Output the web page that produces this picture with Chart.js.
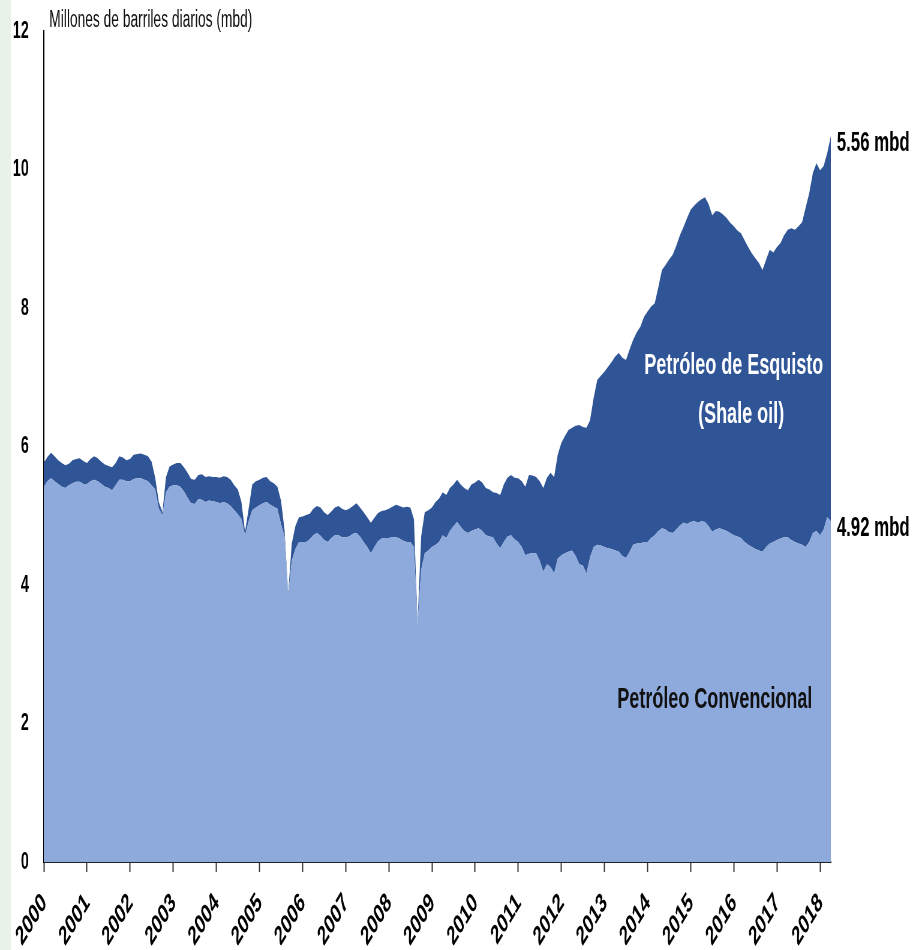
<!DOCTYPE html>
<html lang="es">
<head>
    <meta charset="UTF-8">
    <title>Petróleo convencional y de esquisto</title>
    <style>
        html, body { margin: 0; padding: 0; background: #fff; overflow: hidden; }
        #oilChart { display: block; }
    </style>
</head>
<body>

<!-- the reference is squeezed horizontally, so the canvas is drawn wide and shown at 913px -->
<canvas id="oilChart" width="1522" height="950" style="width:913px;height:950px"></canvas>

<script src="https://cdn.jsdelivr.net/npm/chart.js"></script>
<script>
    // monthly data, Jan 2000 .. Apr 2018 (mbd)
    const startYear = 2000;
    const years = [2000, 2001, 2002, 2003, 2004, 2005, 2006, 2007, 2008, 2009,
                   2010, 2011, 2012, 2013, 2014, 2015, 2016, 2017, 2018];
    const yTicks = [0, 2, 4, 6, 8, 10, 12];

    const conventional = [
        5.42,5.50,5.54,5.50,5.46,5.42,5.40,5.44,5.47,5.49,5.49,5.46,
        5.46,5.50,5.52,5.50,5.46,5.42,5.40,5.37,5.44,5.52,5.52,5.50,
        5.50,5.53,5.54,5.54,5.52,5.50,5.44,5.38,5.10,5.01,5.34,5.42,
        5.44,5.44,5.42,5.35,5.26,5.18,5.17,5.24,5.23,5.20,5.22,5.21,
        5.20,5.18,5.20,5.18,5.14,5.08,5.02,4.95,4.72,4.92,5.08,5.12,
        5.15,5.18,5.20,5.16,5.13,5.10,4.88,4.70,3.85,4.35,4.52,4.62,
        4.62,4.62,4.66,4.72,4.75,4.71,4.65,4.62,4.68,4.72,4.72,4.69,
        4.69,4.70,4.74,4.75,4.70,4.62,4.55,4.46,4.55,4.63,4.67,4.68,
        4.68,4.69,4.69,4.67,4.64,4.62,4.62,4.55,3.42,4.22,4.46,4.50,
        4.55,4.58,4.62,4.72,4.68,4.78,4.85,4.91,4.84,4.78,4.75,4.78,
        4.80,4.82,4.78,4.72,4.70,4.69,4.60,4.53,4.62,4.70,4.72,4.66,
        4.62,4.55,4.43,4.45,4.46,4.46,4.35,4.19,4.30,4.26,4.17,4.38,
        4.43,4.46,4.48,4.50,4.42,4.30,4.28,4.17,4.40,4.55,4.58,4.57,
        4.55,4.53,4.52,4.50,4.48,4.42,4.39,4.48,4.58,4.60,4.60,4.62,
        4.62,4.68,4.72,4.78,4.82,4.80,4.76,4.75,4.80,4.86,4.90,4.88,
        4.91,4.92,4.90,4.92,4.91,4.85,4.77,4.80,4.82,4.80,4.78,4.75,
        4.72,4.70,4.68,4.62,4.58,4.55,4.52,4.50,4.48,4.55,4.60,4.62,
        4.65,4.67,4.69,4.69,4.65,4.62,4.60,4.58,4.55,4.62,4.75,4.78,
        4.72,4.80,4.98,4.92
    ];

    const shale = [
        0.34,0.35,0.37,0.36,0.34,0.34,0.33,0.31,0.33,0.33,0.34,0.33,
        0.30,0.32,0.34,0.33,0.32,0.32,0.32,0.33,0.32,0.34,0.32,0.30,
        0.32,0.35,0.35,0.36,0.36,0.36,0.34,0.17,0.10,0.04,0.22,0.29,
        0.30,0.32,0.34,0.35,0.36,0.35,0.35,0.35,0.37,0.36,0.35,0.35,
        0.36,0.37,0.37,0.38,0.38,0.36,0.36,0.25,0.05,0.18,0.37,0.38,
        0.37,0.37,0.36,0.34,0.34,0.32,0.34,0.09,0.03,0.25,0.33,0.36,
        0.37,0.39,0.37,0.38,0.39,0.41,0.40,0.39,0.38,0.40,0.42,0.41,
        0.39,0.40,0.40,0.43,0.42,0.43,0.43,0.44,0.42,0.41,0.40,0.40,
        0.42,0.44,0.47,0.47,0.48,0.51,0.50,0.40,0.03,0.48,0.59,0.58,
        0.57,0.62,0.63,0.62,0.62,0.62,0.60,0.61,0.61,0.62,0.62,0.67,
        0.68,0.70,0.70,0.68,0.68,0.65,0.73,0.77,0.83,0.85,0.87,0.89,
        0.92,0.95,0.99,1.14,1.12,1.10,1.15,1.21,1.25,1.36,1.39,1.50,
        1.62,1.69,1.76,1.77,1.88,2.01,2.00,2.10,1.98,2.15,2.38,2.45,
        2.53,2.62,2.70,2.80,2.87,2.86,2.86,2.92,2.96,3.05,3.13,3.25,
        3.33,3.34,3.35,3.52,3.73,3.82,3.94,4.02,4.10,4.19,4.27,4.42,
        4.51,4.56,4.63,4.65,4.69,4.65,4.57,4.60,4.57,4.55,4.52,4.48,
        4.46,4.42,4.40,4.36,4.30,4.24,4.20,4.15,4.07,4.15,4.24,4.18,
        4.23,4.27,4.36,4.44,4.50,4.51,4.58,4.66,4.90,5.04,5.20,5.31,
        5.27,5.25,5.26,5.56
    ];

    const FONT = '"Liberation Sans", Arial, sans-serif';
    const toPoints = arr => arr.map((v, i) => ({ x: startYear + i / 12, y: v }));
    const lastX = startYear + (conventional.length - 1) / 12;

    // page strip, title, rotated year labels and the text labels on the areas
    const textPlugin = {
        id: 'texts',
        beforeDraw(chart) {
            const c = chart.ctx;
            c.save();
            c.fillStyle = '#e9f2e9';
            c.fillRect(0, 0, 18, chart.height);
            c.fillStyle = '#111';
            c.font = '23px ' + FONT;
            c.textAlign = 'left';
            c.textBaseline = 'alphabetic';
            c.fillText('Millones de barriles diarios (mbd)', 82, 27);
            c.restore();
        },
        afterDraw(chart) {
            const c = chart.ctx;
            const xs = chart.scales.x;
            c.save();
            c.fillStyle = '#000';
            c.font = 'bold 27px ' + FONT;
            c.textAlign = 'right';
            c.textBaseline = 'alphabetic';
            years.forEach(yr => {
                c.save();
                c.translate(xs.getPixelForValue(yr) + 6, xs.bottom - 46);
                c.rotate(-Math.PI / 4);
                c.fillText(String(yr), 0, 0);
                c.restore();
            });
            c.restore();
        },
        afterDatasetsDraw(chart) {
            const c = chart.ctx;
            const xs = chart.scales.x, ys = chart.scales.y;
            const n = conventional.length - 1;
            const endPx = xs.getPixelForValue(lastX) + 10;
            c.save();
            c.textBaseline = 'middle';
            c.textAlign = 'left';
            c.fillStyle = '#000';
            c.font = 'bold 28px ' + FONT;
            c.fillText(shale[n].toFixed(2) + ' mbd', endPx, ys.getPixelForValue(conventional[n] + shale[n]) + 7);
            c.fillText(conventional[n].toFixed(2) + ' mbd', endPx, ys.getPixelForValue(conventional[n]) + 7);

            c.textAlign = 'center';
            c.font = 'bold 30px ' + FONT;
            c.fillStyle = '#ffffff';
            c.fillText('Petróleo de Esquisto', xs.getPixelForValue(2016.0), ys.getPixelForValue(7.16));
            c.fillText('(Shale oil)', xs.getPixelForValue(2016.17), ys.getPixelForValue(6.46));
            c.fillStyle = '#111111';
            c.fillText('Petróleo Convencional', xs.getPixelForValue(2015.56), ys.getPixelForValue(2.34));
            c.restore();
        }
    };

    const ctx = document.getElementById('oilChart').getContext('2d');
    const oilChart = new Chart(ctx, {
        type: 'line',
        data: {
            datasets: [{
                label: 'Petróleo Convencional',
                data: toPoints(conventional),
                backgroundColor: '#8eaadc',
                borderWidth: 0,
                pointRadius: 0,
                fill: 'origin',
            }, {
                label: 'Petróleo de Esquisto',
                data: toPoints(shale),
                backgroundColor: '#2f5597',
                borderWidth: 0,
                pointRadius: 0,
                fill: '-1',
            }]
        },
        options: {
            responsive: false,
            animation: false,
            devicePixelRatio: 1,
            layout: { padding: { top: 31, right: 137, bottom: 0, left: 0 } },
            plugins: {
                legend: { display: false },
                tooltip: { enabled: false },
            },
            scales: {
                x: {
                    type: 'linear',
                    min: startYear,
                    max: lastX,
                    afterBuildTicks: s => { s.ticks = years.map(v => ({ value: v })); },
                    afterFit: s => { s.height = 88; },
                    grid: { drawOnChartArea: false, drawTicks: true, tickLength: 10, color: '#333', tickWidth: 2 },
                    border: { display: true, color: '#222', width: 2 },
                    // year labels are drawn by the plugin, rotated like the reference
                    ticks: { display: false, autoSkip: false },
                },
                y: {
                    stacked: true,
                    min: 0,
                    max: 12,
                    afterBuildTicks: s => { s.ticks = yTicks.map(v => ({ value: v })); },
                    afterFit: s => { s.width = 73; },
                    // invisible tick marks push the labels away from the axis
                    grid: { display: true, drawOnChartArea: false, drawTicks: true, tickLength: 25, color: 'rgba(0,0,0,0)' },
                    border: { display: true, color: '#000', width: 2 },
                    ticks: {
                        padding: 0,
                        color: '#000',
                        font: { family: FONT, size: 24, weight: 'bold' },
                        callback: v => String(v),
                    },
                },
            },
        },
        plugins: [textPlugin],
    });
</script>

</body>
</html>
